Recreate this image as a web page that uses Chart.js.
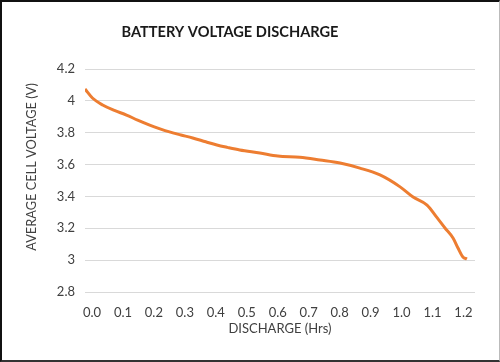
<!DOCTYPE html>
<html>
<head>
<meta charset="utf-8">
<script src="https://cdn.jsdelivr.net/npm/chart.js@4.4.1/dist/chart.umd.min.js"></script>
<style>
    html, body { margin: 0; padding: 0; background: #fff; }
    .frame { position: relative; width: 500px; height: 362px; }
    .frame canvas { position: absolute; left: 0; top: 0; }
    .edge {
        position: absolute; left: 0; top: 0; width: 500px; height: 362px;
        box-sizing: border-box; pointer-events: none;
        border-top: 2px solid #111; border-left: 2px solid #111;
        border-bottom: 2px solid #333; border-right: 1px solid #bbb;
    }
</style>
</head>
<body>
<div class="frame">
    <canvas id="dischargeChart" width="500" height="362"></canvas>
    <div class="edge"></div>
</div>
<script>
// Data
const hours = [0.0, 0.024, 0.057, 0.095, 0.134, 0.17, 0.209, 0.24, 0.273, 0.31, 0.348, 0.39, 0.426, 0.46, 0.5, 0.565, 0.623, 0.694, 0.759, 0.824, 0.888, 0.953, 1.018, 1.06, 1.105, 1.138, 1.163, 1.189, 1.205, 1.221, 1.234];
const voltage = [4.074, 4.018, 3.974, 3.94, 3.911, 3.879, 3.848, 3.826, 3.805, 3.786, 3.767, 3.743, 3.723, 3.708, 3.692, 3.673, 3.654, 3.646, 3.629, 3.61, 3.578, 3.535, 3.46, 3.396, 3.346, 3.265, 3.202, 3.139, 3.076, 3.02, 3.007];
const hourTicks = [0.0, 0.1, 0.2, 0.3, 0.4, 0.5, 0.6, 0.7, 0.8, 0.9, 1.0, 1.1, 1.2];
const voltTicks = [2.8, 3.0, 3.2, 3.4, 3.6, 3.8, 4.0, 4.2];

const chartTitle = 'BATTERY VOLTAGE DISCHARGE';
const yTitle = 'AVERAGE CELL VOLTAGE (V)';
const xTitle = 'DISCHARGE (Hrs)';

const FONT = "Lato, 'Liberation Sans', sans-serif";

// draws the chart title and the y title where the reference has them
const textPlugin = {
    id: 'fixedText',
    afterDraw(chart) {
        const ctx = chart.ctx;
        ctx.save();
        ctx.fillStyle = '#1a1a1a';
        ctx.textAlign = 'center';
        ctx.textBaseline = 'middle';
        ctx.font = 'bold 14.6px ' + FONT;
        ctx.fillText(chartTitle, 230, 32);

        ctx.fillStyle = '#404040';
        ctx.font = '12.8px ' + FONT;
        ctx.translate(32, 167);
        ctx.rotate(-Math.PI / 2);
        ctx.fillText(yTitle, 0, 0);
        ctx.restore();
    }
};

const ctx = document.getElementById('dischargeChart').getContext('2d');
new Chart(ctx, {
    type: 'line',
    data: {
        datasets: [
            {
                data: hours.map((h, i) => ({ x: h, y: voltage[i] })),
                borderColor: '#ED7D31',
                borderWidth: 3,
                pointRadius: 0,
                fill: false,
                cubicInterpolationMode: 'monotone'
            }
        ]
    },
    options: {
        responsive: false,
        animation: false,
        layout: {
            padding: { top: 69, right: 25, bottom: 0, left: 0 }
        },
        plugins: {
            legend: { display: false },
            tooltip: { enabled: false }
        },
        scales: {
            x: {
                type: 'linear',
                min: 0,
                max: 1.26,
                afterBuildTicks: (scale) => {
                    scale.ticks = hourTicks.map((v) => ({ value: v }));
                },
                afterFit: (scale) => {
                    scale.height = 70;
                },
                grid: { display: false },
                border: { display: false },
                ticks: {
                    color: '#404040',
                    font: { family: FONT, size: 13 },
                    padding: 5,
                    labelOffset: 7,
                    maxRotation: 0,
                    autoSkip: false,
                    callback: (v) => v.toFixed(1)
                },
                title: {
                    display: true,
                    text: xTitle,
                    color: '#404040',
                    font: { family: FONT, size: 13 },
                    padding: { top: 0, bottom: 25 }
                }
            },
            y: {
                min: 2.8,
                max: 4.2,
                afterBuildTicks: (scale) => {
                    scale.ticks = voltTicks.map((v) => ({ value: v }));
                },
                afterFit: (scale) => {
                    scale.width = 85;
                },
                grid: { color: '#d9d9d9', lineWidth: 1, drawTicks: false },
                border: { display: false },
                ticks: {
                    color: '#404040',
                    font: { family: FONT, size: 13 },
                    padding: 10,
                    callback: (v) => String(Math.round(v * 10) / 10)
                }
            }
        }
    },
    plugins: [textPlugin]
});
</script>
</body>
</html>
